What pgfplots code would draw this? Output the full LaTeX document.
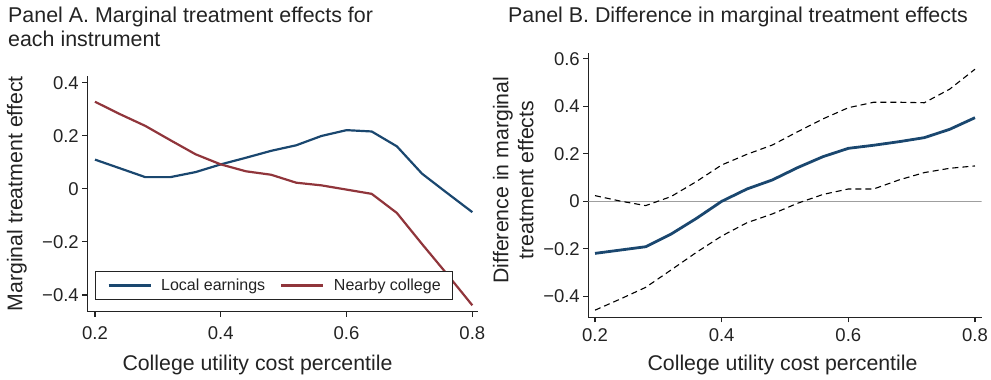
\documentclass[border=0pt]{standalone}
\usepackage{pgfplots}
\pgfplotsset{compat=1.18}
\usepackage{fontspec}
\setmainfont{Liberation Sans}
\definecolor{navy}{RGB}{26,71,111}
\definecolor{maroon}{RGB}{144,53,59}
\definecolor{txt}{RGB}{35,35,35}

\pgfplotsset{
  myaxis/.style={
    scale only axis,
    anchor=south west,
    axis x line*=bottom, axis y line*=left,
    axis line style={txt, line width=1.1pt, -},
    tick align=outside, major tick length=5pt,
    every tick/.style={txt, line width=1.1pt},
    minor tick num=0,
    xtick={0.2,0.4,0.6,0.8}, xticklabels={0.2,0.4,0.6,0.8},
    tick label style={font=\fontsize{18.5}{20}\selectfont, text=txt},
    label style={font=\fontsize{21.3}{25}\selectfont, text=txt},
    xlabel={College utility cost percentile},
  }
}

\begin{document}
\begin{tikzpicture}
\useasboundingbox (0,0) rectangle (991pt,380pt);

\node[anchor=base west, inner sep=0, font=\fontsize{21.4}{24}\selectfont, text=txt] at (8pt,357pt) {Panel A. Marginal treatment effects for};
\node[anchor=base west, inner sep=0, font=\fontsize{21.4}{24}\selectfont, text=txt] at (8pt,333pt) {each instrument};
\node[anchor=base west, inner sep=0, font=\fontsize{21.4}{24}\selectfont, text=txt] at (508pt,357pt) {Panel B. Difference in marginal treatment effects};

\begin{axis}[myaxis,
  at={(87.3pt,68.3pt)}, width=390.7pt, height=235.7pt,
  xmin=0.1878, xmax=0.809, ymin=-0.463, ymax=0.425,
  ytick={-0.4,-0.2,0,0.2,0.4}, yticklabels={−0.4,−0.2,0,0.2,0.4},
  xticklabel style={yshift=-6pt},
  ylabel={Marginal treatment effect},
  ylabel style={at={(axis description cs:-0.18,0.5)}, anchor=center},
  xlabel style={at={(axis description cs:0.4356,-0.226)}, anchor=center},
  legend columns=2,
  legend image code/.code={\draw[#1] (0pt,0pt) -- (42pt,0pt);},
  legend style={at={(axis description cs:0.0197,0.0496)}, anchor=south west,
    draw=txt, line width=1pt, inner xsep=12pt, inner ysep=5.5pt,
    nodes={inner xsep=0pt},
    font=\fontsize{16}{18}\selectfont, text=txt,
    /tikz/every odd column/.append style={column sep=9.5pt},
    /tikz/every even column/.append style={column sep=15pt}},
]
\addplot[navy, line width=2.2pt] coordinates {
(0.20,0.110) (0.24,0.077) (0.28,0.044) (0.32,0.044) (0.36,0.063) (0.40,0.092)
(0.44,0.117) (0.48,0.143) (0.52,0.164) (0.56,0.199) (0.60,0.221) (0.64,0.216)
(0.68,0.160) (0.72,0.057) (0.76,-0.016) (0.80,-0.088)};
\addlegendentry{Local earnings}
\addplot[maroon, line width=2.2pt] coordinates {
(0.20,0.328) (0.24,0.281) (0.28,0.237) (0.32,0.183) (0.36,0.130) (0.40,0.092)
(0.44,0.066) (0.48,0.053) (0.52,0.023) (0.56,0.013) (0.60,-0.003) (0.64,-0.019)
(0.68,-0.091) (0.72,-0.208) (0.76,-0.322) (0.80,-0.439)};
\addlegendentry{Nearby college}
\end{axis}

\begin{axis}[myaxis,
  at={(588.3pt,62.7pt)}, width=393.4pt, height=264pt,
  xmin=0.1894, xmax=0.8106, ymin=-0.488, ymax=0.623,
  ytick={-0.4,-0.2,0,0.2,0.4,0.6}, yticklabels={−0.4,−0.2,0,0.2,0.4,0.6},
  xticklabel style={yshift=-2.5pt},
  ylabel={Difference in marginal\\treatment effects},
  ylabel style={at={(axis description cs:-0.191,0.52)}, anchor=center, align=center},
  xlabel style={at={(axis description cs:0.4937,-0.181)}, anchor=center},
]
\addplot[gray!75, line width=1pt] coordinates {(0.1894,0) (0.8106,0)};
\addplot[black, line width=1.1pt, dash pattern=on 6pt off 4pt] coordinates {
(0.20,0.024) (0.24,0.001) (0.28,-0.018) (0.32,0.020) (0.36,0.083) (0.40,0.153)
(0.44,0.198) (0.48,0.237) (0.52,0.293) (0.56,0.347) (0.60,0.394) (0.64,0.417)
(0.68,0.417) (0.72,0.415) (0.76,0.472) (0.80,0.556)};
\addplot[black, line width=1.1pt, dash pattern=on 6pt off 4pt] coordinates {
(0.20,-0.458) (0.24,-0.411) (0.28,-0.362) (0.32,-0.289) (0.36,-0.215) (0.40,-0.146)
(0.44,-0.090) (0.48,-0.053) (0.52,-0.008) (0.56,0.029) (0.60,0.052) (0.64,0.052)
(0.68,0.090) (0.72,0.121) (0.76,0.139) (0.80,0.149)};
\addplot[navy, line width=2.8pt] coordinates {
(0.20,-0.219) (0.24,-0.205) (0.28,-0.191) (0.32,-0.138) (0.36,-0.072) (0.40,0.000)
(0.44,0.052) (0.48,0.090) (0.52,0.142) (0.56,0.188) (0.60,0.223) (0.64,0.236)
(0.68,0.251) (0.72,0.268) (0.76,0.303) (0.80,0.352)};
\end{axis}
\end{tikzpicture}
\end{document}
